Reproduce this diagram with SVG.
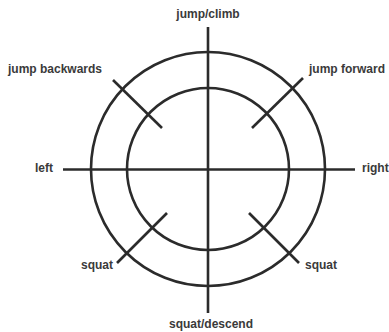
<svg xmlns="http://www.w3.org/2000/svg" width="389" height="332" viewBox="0 0 389 332">
<style>
.ln{fill:none;stroke:#2b2b2b;stroke-width:2.6;stroke-linecap:butt}
.lb{font-family:"Liberation Sans",Arial,sans-serif;font-size:12px;font-weight:bold;fill:#3a3a3a}
</style>
<rect width="389" height="332" fill="#ffffff"/>
<g id="circles">
<circle class="ln" cx="208" cy="169" r="117"/>
<circle class="ln" cx="208" cy="169" r="81"/>
</g>
<g id="connectors">
<line class="ln" x1="208" y1="27" x2="208" y2="313"/>
<line class="ln" x1="63" y1="169.5" x2="355" y2="169.5"/>
<line class="ln" x1="113" y1="80" x2="162" y2="128"/>
<line class="ln" x1="303" y1="78" x2="252" y2="128"/>
<line class="ln" x1="167" y1="213" x2="117" y2="263"/>
<line class="ln" x1="249" y1="213" x2="299" y2="263"/>
</g>
<g id="label-jump-climb"><text class="lb" x="208" y="18" text-anchor="middle">jump/climb</text></g>
<g id="label-jump-backwards"><text class="lb" x="8" y="73">jump backwards</text></g>
<g id="label-jump-forward"><text class="lb" x="309" y="73">jump forward</text></g>
<g id="label-left"><text class="lb" x="35" y="172">left</text></g>
<g id="label-right"><text class="lb" x="362" y="172">right</text></g>
<g id="label-squat-left"><text class="lb" x="81" y="269">squat</text></g>
<g id="label-squat-right"><text class="lb" x="305" y="269">squat</text></g>
<g id="label-squat-descend"><text class="lb" x="211" y="328" text-anchor="middle">squat/descend</text></g>
</svg>
